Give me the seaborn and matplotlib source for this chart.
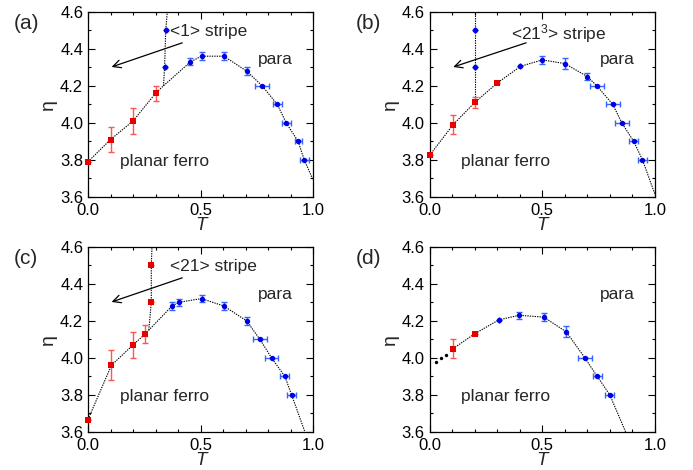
import numpy as np
import pandas as pd
import matplotlib
matplotlib.use("Agg")
import matplotlib.pyplot as plt
import seaborn as sns
from matplotlib.ticker import MultipleLocator

sns.set_style("ticks")
plt.rcParams['font.family'] = ['Liberation Sans', 'DejaVu Sans']
plt.rcParams['mathtext.default'] = 'regular'

# ---------------- data ----------------
# panel (a)
a_red_T = [0.0, 0.1, 0.2, 0.3]
a_red_eta = [3.79, 3.91, 4.01, 4.16]
a_red_err = [0.0, 0.07, 0.07, 0.04]
a_blue_T = [0.34, 0.345, 0.455, 0.504, 0.603, 0.704, 0.773, 0.84, 0.88, 0.933, 0.96]
a_blue_eta = [4.30, 4.50, 4.33, 4.36, 4.36, 4.28, 4.20, 4.10, 4.00, 3.90, 3.80]
a_blue_xerr = [0, 0, 0, 0, 0, 0, 0.03, 0.02, 0.02, 0.015, 0.02]
a_blue_yerr = [0, 0, 0.02, 0.02, 0.02, 0.02, 0, 0, 0, 0, 0]
a_curve_T = [0.0, 0.1, 0.2, 0.3, 0.335, 0.455, 0.504, 0.603, 0.704, 0.773, 0.84, 0.88, 0.933, 0.96, 1.0]
a_curve_eta = [3.79, 3.91, 4.01, 4.16, 4.20, 4.33, 4.36, 4.36, 4.28, 4.20, 4.10, 4.00, 3.90, 3.80, 3.69]
a_stripe_T = [0.335, 0.34, 0.345, 0.352]
a_stripe_eta = [4.20, 4.30, 4.50, 4.60]

# panel (b)
b_red_T = [0.0, 0.104, 0.2, 0.3]
b_red_eta = [3.825, 3.99, 4.11, 4.215]
b_red_err = [0.0, 0.05, 0.03, 0.0]
b_blue_T = [0.2, 0.2, 0.403, 0.5, 0.6, 0.7, 0.742, 0.813, 0.853, 0.906, 0.945]
b_blue_eta = [4.30, 4.50, 4.305, 4.34, 4.32, 4.25, 4.20, 4.10, 4.00, 3.90, 3.80]
b_blue_xerr = [0, 0, 0, 0, 0, 0, 0.03, 0.03, 0.03, 0.02, 0.02]
b_blue_yerr = [0, 0, 0, 0.02, 0.03, 0.02, 0, 0, 0, 0, 0]
b_curve_T = [0.0, 0.104, 0.2, 0.3, 0.403, 0.5, 0.6, 0.7, 0.742, 0.813, 0.853, 0.906, 0.945, 1.0]
b_curve_eta = [3.825, 3.99, 4.11, 4.215, 4.305, 4.34, 4.32, 4.25, 4.20, 4.10, 4.00, 3.90, 3.80, 3.615]
b_stripe_T = [0.2, 0.2, 0.2, 0.2]
b_stripe_eta = [4.11, 4.30, 4.50, 4.60]

# panel (c)
c_red_T = [0.0, 0.104, 0.2, 0.255, 0.281, 0.281]
c_red_eta = [3.667, 3.96, 4.07, 4.13, 4.30, 4.50]
c_red_err = [0.0, 0.08, 0.07, 0.05, 0.0, 0.0]
c_blue_T = [0.373, 0.403, 0.504, 0.603, 0.704, 0.763, 0.815, 0.874, 0.904]
c_blue_eta = [4.28, 4.30, 4.32, 4.28, 4.20, 4.10, 4.00, 3.90, 3.80]
c_blue_xerr = [0, 0, 0, 0, 0, 0.03, 0.03, 0.02, 0.02]
c_blue_yerr = [0.02, 0.02, 0.02, 0.02, 0.02, 0, 0, 0, 0]
c_curve_T = [0.0, 0.104, 0.2, 0.255, 0.27, 0.373, 0.403, 0.504, 0.603, 0.704, 0.763, 0.815, 0.874, 0.904, 0.963]
c_curve_eta = [3.667, 3.96, 4.07, 4.13, 4.15, 4.28, 4.30, 4.32, 4.28, 4.20, 4.10, 4.00, 3.90, 3.80, 3.60]
c_stripe_T = [0.27, 0.281, 0.281, 0.284]
c_stripe_eta = [4.15, 4.30, 4.50, 4.60]

# panel (d)
d_red_T = [0.104, 0.2]
d_red_eta = [4.05, 4.13]
d_red_err = [0.05, 0.0]
d_blue_T = [0.307, 0.397, 0.507, 0.607, 0.689, 0.744, 0.80]
d_blue_eta = [4.205, 4.23, 4.22, 4.14, 4.00, 3.90, 3.80]
d_blue_xerr = [0, 0, 0, 0, 0.03, 0.02, 0.02]
d_blue_yerr = [0, 0.02, 0.02, 0.03, 0, 0, 0]
d_curve_T = [0.104, 0.2, 0.307, 0.397, 0.507, 0.607, 0.689, 0.744, 0.80, 0.87]
d_curve_eta = [4.05, 4.13, 4.205, 4.23, 4.22, 4.14, 4.00, 3.90, 3.80, 3.60]
d_dots_T = [0.03, 0.051, 0.071]
d_dots_eta = [3.978, 3.998, 4.018]

panel_labels = ["(a)", "(b)", "(c)", "(d)"]
stripe_labels = ["<1> stripe", "<21$^{3}$> stripe", "<21> stripe", None]
stripe_text_pos = [(0.363, 4.495), (0.36, 4.48), (0.363, 4.495), None]
arrow_start = [(0.43, 4.437), (0.44, 4.437), (0.43, 4.437), None]
arrow_end = (0.093, 4.297)

panels = [
    dict(red=(a_red_T, a_red_eta, a_red_err), blue=(a_blue_T, a_blue_eta, a_blue_xerr, a_blue_yerr),
         curve=(a_curve_T, a_curve_eta), stripe=(a_stripe_T, a_stripe_eta), dots=None),
    dict(red=(b_red_T, b_red_eta, b_red_err), blue=(b_blue_T, b_blue_eta, b_blue_xerr, b_blue_yerr),
         curve=(b_curve_T, b_curve_eta), stripe=(b_stripe_T, b_stripe_eta), dots=None),
    dict(red=(c_red_T, c_red_eta, c_red_err), blue=(c_blue_T, c_blue_eta, c_blue_xerr, c_blue_yerr),
         curve=(c_curve_T, c_curve_eta), stripe=(c_stripe_T, c_stripe_eta), dots=None),
    dict(red=(d_red_T, d_red_eta, d_red_err), blue=(d_blue_T, d_blue_eta, d_blue_xerr, d_blue_yerr),
         curve=(d_curve_T, d_curve_eta), stripe=None, dots=(d_dots_T, d_dots_eta)),
]

# ---------------- figure ----------------
fig = plt.figure(figsize=(6.93, 4.70), dpi=100)
lefts = [0.127, 0.620]
bottoms = [0.581, 0.081]
w, h = 0.325, 0.394
positions = [(lefts[0], bottoms[0]), (lefts[1], bottoms[0]), (lefts[0], bottoms[1]), (lefts[1], bottoms[1])]

RED = "#e60000"
RED_ERR = "#ff5555"
BLUE = "#0000e6"
BLUE_ERR = "#3366ff"
dotted = (0, (1.2, 1.0))

for i, p in enumerate(panels):
    ax = fig.add_axes([positions[i][0], positions[i][1], w, h])
    cT, ceta = p["curve"]
    sns.lineplot(x=cT, y=ceta, ax=ax, sort=False, estimator=None, color="black",
                 lw=0.8, linestyle=dotted, zorder=2)
    if p["stripe"] is not None:
        sT, seta = p["stripe"]
        sns.lineplot(x=sT, y=seta, ax=ax, sort=False, estimator=None, color="black",
                     lw=0.8, linestyle=dotted, zorder=2)
    if p["dots"] is not None:
        dT, deta = p["dots"]
        sns.scatterplot(x=dT, y=deta, ax=ax, color="black", s=6, linewidth=0, zorder=3)
    rT, reta, rerr = p["red"]
    ax.errorbar(rT, reta, yerr=rerr, fmt="none", ecolor=RED_ERR, elinewidth=1.0,
                capsize=2.0, capthick=1.0, zorder=3)
    sns.scatterplot(x=rT, y=reta, ax=ax, marker="s", color=RED, s=22, linewidth=0,
                    zorder=4, clip_on=False)
    bT, beta, bxe, bye = p["blue"]
    ax.errorbar(bT, beta, xerr=bxe, yerr=bye, fmt="none", ecolor=BLUE_ERR, elinewidth=1.0,
                capsize=2.0, capthick=1.0, zorder=3)
    sns.scatterplot(x=bT, y=beta, ax=ax, marker="o", color=BLUE, s=15, linewidth=0,
                    zorder=4, clip_on=False)

    ax.set_xlim(0, 1.0)
    ax.set_ylim(3.6, 4.6)
    ax.xaxis.set_major_locator(MultipleLocator(0.5))
    ax.xaxis.set_minor_locator(MultipleLocator(0.1))
    ax.yaxis.set_major_locator(MultipleLocator(0.2))
    ax.yaxis.set_minor_locator(MultipleLocator(0.1))
    ax.set_xticklabels([f"{v:.1f}" for v in ax.get_xticks()])
    ax.set_yticklabels([f"{v:.1f}" for v in ax.get_yticks()])
    ax.tick_params(which="both", direction="in", top=True, right=True, labelsize=12,
                   width=0.8, colors="black")
    ax.tick_params(which="major", length=5)
    ax.tick_params(axis="x", which="major", pad=4.5)
    ax.tick_params(axis="y", which="major", pad=3.5)
    ax.tick_params(which="minor", length=2.5)
    for s in ax.spines.values():
        s.set_linewidth(0.9)
        s.set_color("black")
        s.set_visible(True)
    ax.set_xlabel("T", fontsize=13.5, style="italic", labelpad=-0.5)
    ax.set_ylabel("η", fontsize=14, labelpad=2)

    ax.text(0.755, 4.34, "para", fontsize=12.5, ha="left", va="center")
    ax.text(0.14, 3.79, "planar ferro", fontsize=12.5, ha="left", va="center")
    if stripe_labels[i] is not None:
        tx, ty = stripe_text_pos[i]
        ax.text(tx, ty, stripe_labels[i], fontsize=12.5, ha="left", va="center")
        ax.annotate("", xy=arrow_end, xytext=arrow_start[i],
                    arrowprops=dict(arrowstyle="->", lw=0.9, color="black", mutation_scale=14))
    fig.text(positions[i][0] - 0.107, positions[i][1] + h - 0.025, panel_labels[i],
             fontsize=15, ha="left", va="center")

fig.savefig("out.png", dpi=100)
